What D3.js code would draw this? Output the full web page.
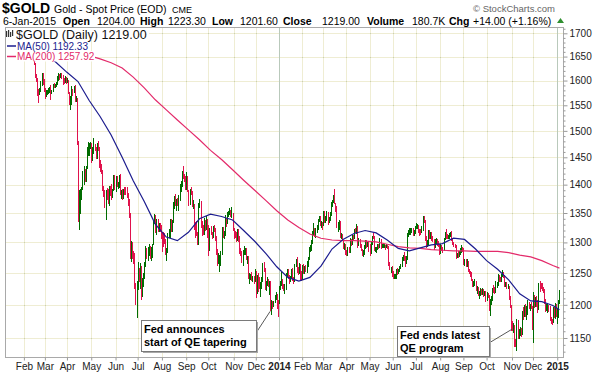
<!DOCTYPE html>
<html lang="en">
<head>
<meta charset="UTF-8">
<title>$GOLD Daily</title>
<script src="https://d3js.org/d3.v7.min.js"></script>
<style>
  body { margin: 0; background: #fff; }
  text { font-family: "Liberation Sans", Arial, sans-serif; }
</style>
</head>
<body>
<div id="chart"></div>
<script>
// ---- data ----

// month axis: label and number of trading days, Jan 2013 .. Jan 2015
var monthLabels = ["Jan","Feb","Mar","Apr","May","Jun","Jul","Aug","Sep","Oct","Nov","Dec",
                   "2014","Feb","Mar","Apr","May","Jun","Jul","Aug","Sep","Oct","Nov","Dec","2015"];
var monthDays = [21,19,20,22,22,20,22,22,20,23,20,21, 21,19,21,21,21,21,22,21,21,23,19,22, 3];
var priceTicks = [1150,1200,1250,1300,1350,1400,1450,1500,1550,1600,1650,1700];

// daily bars, one array per month: [high, low, close]
var jan13 = [[1694,1672,1687],[1693,1662,1664],[1665,1626,1656],[1662,1643,1647],[1664,1645,1657],[1662,1651,1655],[1680,1654,1677],[1680,1658,1662],[1674,1660,1669],[1685,1666,1683],[1686,1676,1681],[1693,1679,1688],[1694,1683,1687],[1696,1682,1692],[1693,1681,1685],[1690,1664,1669],[1671,1655,1658],[1662,1651,1655],[1666,1652,1662],[1680,1660,1677],[1680,1659,1662]];
var feb13 = [[1679,1657,1667],[1677,1663,1674],[1681,1670,1674],[1682,1668,1677],[1681,1664,1668],[1672,1662,1667],[1668,1645,1649],[1652,1641,1649],[1652,1641,1644],[1645,1632,1636],[1637,1605,1609],[1613,1598,1603],[1606,1568,1578],[1582,1554,1576],[1584,1571,1581],[1600,1576,1594],[1616,1588,1614],[1615,1590,1596],[1603,1577,1579]];
var mar13 = [[1584,1562,1572],[1581,1567,1573],[1580,1570,1574],[1584,1573,1575],[1587,1574,1582],[1590,1561,1577],[1581,1572,1578],[1592,1576,1590],[1594,1584,1588],[1592,1584,1589],[1597,1586,1592],[1609,1591,1604],[1615,1600,1612],[1614,1601,1606],[1616,1605,1614],[1615,1603,1607],[1612,1591,1605],[1606,1593,1597],[1609,1596,1606],[1607,1592,1597]];
var apr13 = [[1605,1594,1600],[1602,1573,1575],[1577,1550,1553],[1569,1540,1557],[1588,1550,1580],[1582,1569,1575],[1588,1574,1585],[1590,1556,1558],[1569,1556,1564],[1565,1474,1477],[1480,1335,1348],[1390,1321,1369],[1392,1349,1378],[1396,1373,1392],[1424,1391,1403],[1433,1400,1424],[1428,1404,1409],[1434,1405,1430],[1469,1428,1462],[1478,1453,1462],[1476,1452,1468],[1478,1465,1472]];
var may13 = [[1476,1439,1445],[1470,1444,1467],[1487,1456,1470],[1475,1461,1468],[1470,1446,1451],[1477,1446,1473],[1480,1461,1468],[1469,1430,1437],[1445,1423,1433],[1437,1419,1425],[1426,1389,1393],[1397,1378,1386],[1390,1358,1365],[1390,1338,1385],[1394,1372,1377],[1392,1365,1368],[1397,1363,1392],[1398,1380,1386],[1402,1373,1379],[1393,1376,1391],[1417,1388,1412],[1418,1390,1392]];
var jun13 = [[1416,1387,1412],[1416,1395,1398],[1405,1392,1398],[1417,1394,1414],[1420,1381,1383],[1390,1374,1386],[1392,1372,1378],[1393,1375,1391],[1395,1382,1390],[1396,1382,1386],[1395,1377,1383],[1385,1362,1367],[1375,1342,1347],[1350,1273,1278],[1302,1268,1298],[1301,1272,1278],[1286,1265,1277],[1283,1225,1230],[1234,1200,1212],[1237,1180,1234]];
var jul13 = [[1267,1223,1255],[1258,1236,1243],[1266,1225,1251],[1262,1207,1223],[1242,1212,1235],[1250,1227,1246],[1267,1240,1263],[1294,1260,1283],[1290,1272,1277],[1293,1270,1284],[1297,1277,1291],[1294,1272,1277],[1292,1270,1280],[1298,1275,1296],[1338,1295,1335],[1348,1331,1345],[1347,1315,1319],[1339,1313,1335],[1340,1318,1322],[1333,1318,1329],[1332,1318,1324],[1330,1305,1312]];
var aug13 = [[1317,1284,1311],[1318,1292,1310],[1316,1298,1302],[1306,1279,1283],[1291,1270,1285],[1316,1283,1312],[1323,1308,1312],[1339,1307,1335],[1340,1317,1321],[1338,1318,1335],[1370,1332,1367],[1379,1357,1376],[1384,1362,1365],[1375,1354,1372],[1377,1362,1370],[1381,1354,1377],[1401,1371,1396],[1406,1386,1404],[1424,1395,1419],[1434,1410,1418],[1419,1404,1411],[1415,1391,1396]];
var sep13 = [[1422,1391,1412],[1415,1386,1389],[1391,1363,1365],[1393,1364,1390],[1395,1382,1386],[1389,1361,1363],[1372,1357,1366],[1366,1321,1327],[1334,1308,1326],[1337,1310,1315],[1318,1296,1309],[1368,1295,1365],[1375,1359,1370],[1371,1325,1333],[1337,1310,1322],[1330,1313,1317],[1341,1312,1337],[1338,1319,1323],[1344,1321,1338],[1340,1307,1326]];
var oct13 = [[1329,1278,1286],[1324,1286,1318],[1328,1312,1317],[1318,1306,1310],[1327,1308,1325],[1329,1317,1321],[1325,1302,1307],[1310,1280,1285],[1289,1262,1270],[1282,1264,1273],[1280,1251,1273],[1285,1262,1282],[1326,1280,1322],[1326,1307,1315],[1320,1306,1315],[1346,1310,1341],[1342,1326,1333],[1352,1331,1348],[1353,1343,1352],[1359,1347,1353],[1356,1343,1346],[1361,1341,1348],[1350,1320,1323]];
var nov13 = [[1325,1306,1315],[1320,1308,1314],[1318,1301,1307],[1322,1303,1318],[1322,1300,1308],[1310,1281,1286],[1291,1277,1281],[1285,1266,1271],[1287,1262,1284],[1294,1280,1287],[1291,1280,1288],[1291,1271,1273],[1278,1264,1274],[1277,1240,1243],[1250,1233,1243],[1249,1239,1244],[1252,1237,1241],[1245,1235,1242],[1245,1232,1238],[1256,1235,1250]];
var dec13 = [[1254,1211,1221],[1246,1217,1243],[1250,1220,1242],[1244,1224,1226],[1235,1212,1229],[1243,1225,1240],[1266,1236,1262],[1267,1251,1256],[1258,1223,1226],[1238,1222,1234],[1244,1229,1238],[1240,1227,1230],[1238,1215,1235],[1237,1190,1195],[1208,1185,1203],[1206,1194,1197],[1206,1196,1204],[1215,1203,1212],[1220,1208,1213],[1216,1193,1205],[1207,1182,1202]];
var jan14 = [[1229,1202,1225],[1238,1223,1235],[1251,1229,1238],[1240,1224,1230],[1233,1221,1225],[1233,1217,1229],[1250,1223,1248],[1256,1243,1253],[1256,1240,1244],[1247,1233,1241],[1245,1235,1242],[1256,1240,1254],[1258,1237,1242],[1244,1232,1238],[1265,1236,1263],[1272,1260,1270],[1276,1250,1254],[1260,1247,1251],[1266,1249,1262],[1265,1239,1242],[1253,1238,1240]];
var feb14 = [[1263,1239,1260],[1264,1248,1252],[1262,1248,1258],[1263,1252,1257],[1270,1250,1262],[1276,1260,1274],[1292,1271,1290],[1295,1284,1292],[1304,1285,1301],[1320,1297,1318],[1332,1313,1321],[1325,1309,1312],[1324,1308,1319],[1330,1316,1324],[1340,1321,1337],[1344,1334,1343],[1345,1327,1329],[1336,1325,1331],[1335,1321,1326]];
var mar14 = [[1354,1327,1350],[1353,1333,1336],[1345,1332,1340],[1353,1336,1350],[1352,1330,1338],[1343,1332,1340],[1352,1337,1347],[1370,1345,1367],[1373,1361,1371],[1382,1367,1379],[1392,1365,1367],[1368,1352,1358],[1362,1325,1329],[1334,1318,1330],[1338,1321,1335],[1337,1308,1311],[1316,1306,1311],[1314,1302,1304],[1304,1289,1292],[1299,1288,1294],[1298,1280,1283]];
var apr14 = [[1288,1277,1279],[1293,1278,1291],[1292,1283,1285],[1307,1283,1304],[1306,1294,1298],[1312,1295,1309],[1313,1302,1306],[1322,1305,1319],[1324,1315,1318],[1331,1314,1327],[1327,1291,1302],[1307,1294,1303],[1306,1290,1294],[1298,1285,1288],[1289,1277,1283],[1287,1276,1285],[1296,1279,1292],[1304,1289,1301],[1304,1291,1296],[1300,1292,1296],[1300,1284,1295]];
var may14 = [[1297,1277,1283],[1302,1281,1299],[1311,1296,1309],[1315,1305,1308],[1310,1285,1288],[1293,1284,1288],[1293,1283,1290],[1298,1288,1295],[1298,1289,1293],[1307,1291,1305],[1306,1289,1293],[1298,1290,1293],[1298,1291,1294],[1297,1290,1294],[1296,1287,1292],[1298,1290,1294],[1296,1289,1291],[1294,1262,1264],[1267,1255,1257],[1259,1250,1257],[1261,1244,1246]];
var jun14 = [[1253,1241,1244],[1248,1241,1244],[1248,1240,1244],[1256,1241,1253],[1258,1247,1252],[1256,1249,1253],[1261,1251,1260],[1264,1256,1261],[1276,1259,1273],[1280,1270,1274],[1284,1270,1272],[1277,1260,1271],[1277,1265,1272],[1316,1271,1314],[1321,1309,1316],[1325,1312,1318],[1325,1313,1321],[1325,1315,1322],[1324,1310,1316],[1321,1311,1317],[1328,1314,1322]];
var jul14 = [[1332,1322,1326],[1331,1322,1327],[1330,1315,1320],[1322,1311,1317],[1322,1312,1316],[1327,1315,1325],[1345,1320,1338],[1344,1333,1337],[1338,1303,1307],[1310,1291,1297],[1304,1293,1300],[1321,1296,1318],[1321,1306,1310],[1318,1306,1314],[1317,1303,1306],[1310,1300,1304],[1305,1287,1292],[1306,1290,1303],[1307,1298,1304],[1306,1294,1299],[1302,1293,1295],[1298,1280,1282]];
var aug14 = [[1298,1281,1294],[1296,1286,1289],[1292,1282,1286],[1308,1285,1306],[1317,1304,1312],[1322,1306,1310],[1314,1305,1309],[1313,1305,1310],[1316,1306,1314],[1318,1309,1315],[1320,1302,1305],[1306,1295,1298],[1301,1292,1295],[1298,1290,1293],[1295,1272,1276],[1283,1274,1280],[1285,1275,1277],[1286,1276,1283],[1290,1280,1284],[1295,1283,1290],[1292,1284,1287]];
var sep14 = [[1290,1263,1265],[1273,1262,1270],[1272,1259,1262],[1272,1260,1268],[1269,1251,1253],[1256,1248,1252],[1254,1244,1248],[1251,1237,1239],[1241,1228,1231],[1238,1227,1235],[1240,1230,1236],[1238,1222,1225],[1229,1216,1226],[1228,1214,1216],[1221,1209,1217],[1226,1214,1222],[1225,1215,1219],[1226,1215,1222],[1224,1212,1214],[1222,1213,1219],[1221,1205,1208]];
var oct14 = [[1220,1206,1215],[1219,1210,1214],[1215,1190,1192],[1209,1183,1206],[1213,1200,1211],[1226,1206,1224],[1231,1219,1223],[1227,1217,1222],[1237,1219,1229],[1236,1226,1234],[1249,1230,1242],[1246,1236,1240],[1244,1235,1237],[1249,1236,1246],[1255,1243,1250],[1252,1242,1245],[1247,1228,1230],[1236,1227,1232],[1236,1225,1228],[1233,1224,1228],[1230,1208,1211],[1213,1195,1198],[1200,1161,1171]];
var nov14 = [[1176,1160,1168],[1172,1158,1168],[1170,1137,1145],[1148,1137,1142],[1179,1131,1177],[1177,1148,1150],[1164,1148,1160],[1166,1153,1162],[1165,1151,1160],[1191,1154,1187],[1197,1177,1182],[1199,1181,1196],[1202,1181,1184],[1198,1177,1191],[1207,1185,1200],[1204,1193,1196],[1202,1191,1198],[1204,1193,1197],[1198,1162,1167]];
var dec14 = [[1220,1142,1212],[1215,1195,1200],[1212,1196,1208],[1214,1196,1205],[1208,1188,1192],[1234,1192,1232],[1238,1220,1231],[1234,1225,1229],[1234,1222,1226],[1228,1218,1222],[1225,1202,1207],[1209,1189,1195],[1202,1190,1196],[1203,1187,1198],[1200,1189,1195],[1198,1175,1178],[1181,1171,1175],[1179,1170,1174],[1197,1173,1195],[1197,1180,1182],[1203,1178,1200],[1202,1181,1184]];
var jan15 = [[1194,1171,1186],[1208,1180,1205],[1223.3,1201.6,1219]];

// moving averages: [trading day number, value]
var ma50 = [[40,1656],[50,1638],[60,1617],[70,1598],[80,1560],[90,1528],[100,1492],[110,1450],[120,1407],[130,1370],[140,1331],[150,1309],[160,1303],[170,1317],[180,1340],[190,1348],[200,1344],[210,1338],[220,1320],[230,1302],[240,1282],[250,1260],[260,1243],[270,1237],[280,1243],[290,1261],[300,1289],[310,1305],[320,1315],[330,1320],[340,1316],[350,1304],[360,1290],[370,1286],[380,1291],[390,1296],[400,1298],[410,1307],[420,1305],[430,1289],[440,1270],[450,1256],[460,1239],[470,1217],[480,1206],[490,1205],[500,1199],[506,1192.33]];
var ma200 = [[70,1656],[80,1652],[90,1645],[100,1637],[110,1626],[120,1607],[130,1585],[140,1561],[150,1541],[160,1521],[170,1502],[180,1483],[190,1463],[200,1446],[210,1427],[220,1408],[230,1390],[240,1372],[250,1354],[260,1338],[270,1325],[280,1314],[290,1307],[300,1304],[310,1303],[320,1303],[330,1302],[340,1301],[350,1297],[360,1293],[370,1291],[380,1290],[390,1288],[400,1287],[410,1286],[420,1286],[430,1285],[440,1285],[450,1285],[460,1283],[470,1279],[480,1276],[490,1270],[500,1262],[506,1257.92]];

// annotations: which bar they point at
var notes = [
  {lines: ["Fed announces", "start of QE tapering"], day: 244, price: 1190, box: [141, 320, 115, 31], from: [256, 333]},
  {lines: ["Fed ends latest", "QE program"], day: 463, price: 1163, box: [397, 326, 92, 30], from: [489, 343]}
];

// ---- chart ----
var width = 593, height = 373;
var plot = {left: 5, right: 563, top: 27, bottom: 357};
var red = "#e0124c", green = "#006c00";

var svg = d3.select("#chart").append("svg")
    .attr("width", width)
    .attr("height", height)
    .style("display", "block");

var bars = [].concat(jan13, feb13, mar13, apr13, may13, jun13, jul13, aug13, sep13, oct13, nov13, dec13,
                     jan14, feb14, mar14, apr14, may14, jun14, jul14, aug14, sep14, oct14, nov14, dec14, jan15);

var monthStart = [];
monthDays.reduce(function(acc, n) { monthStart.push(acc); return acc + n; }, 0);

var x = d3.scaleLinear().domain([3.9, 509.2]).range([plot.left, plot.right]);
var y = d3.scaleLog().domain([1122.3, 1713.8]).range([plot.bottom, plot.top]);

var months = monthStart.map(function(d, i) {
  return {day: d, label: monthLabels[i], year: /^\d/.test(monthLabels[i])};
}).filter(function(d) { return x(d.day) > plot.left + 1; });

// grid
var grid = svg.append("g").attr("shape-rendering", "crispEdges");
grid.selectAll(".hg").data(priceTicks).enter().append("line")
    .attr("x1", plot.left).attr("x2", plot.right)
    .attr("y1", function(d) { return Math.round(y(d)) + 0.5; })
    .attr("y2", function(d) { return Math.round(y(d)) + 0.5; })
    .attr("stroke", "#efedd3");
grid.selectAll(".vg").data(months).enter().append("line")
    .attr("x1", function(d) { return Math.round(x(d.day)) + 0.5; })
    .attr("x2", function(d) { return Math.round(x(d.day)) + 0.5; })
    .attr("y1", plot.top).attr("y2", plot.bottom)
    .attr("stroke", function(d) { return d.year ? "#b9c9bb" : "#efedd3"; });
// little dots where grid lines cross
months.filter(function(d) { return !d.year; }).forEach(function(m) {
  grid.selectAll(null).data(priceTicks).enter().append("rect")
      .attr("x", Math.round(x(m.day)))
      .attr("y", function(d) { return Math.round(y(d)); })
      .attr("width", 1).attr("height", 1)
      .attr("fill", "#c9cfb4");
});

// clip to plot
svg.append("clipPath").attr("id", "plotclip").append("rect")
    .attr("x", plot.left + 1).attr("y", plot.top + 1)
    .attr("width", plot.right - plot.left - 1).attr("height", plot.bottom - plot.top - 1);

// candles: at this density each one is a short vertical bar from low to high
svg.append("g").attr("clip-path", "url(#plotclip)").attr("shape-rendering", "crispEdges")
  .selectAll("rect").data(bars).enter().append("rect")
    .attr("x", function(d, i) { return Math.round(x(i)) - 0.5; })
    .attr("width", 1.6)
    .attr("y", function(d) { return Math.round(y(d[0])); })
    .attr("height", function(d) { return Math.max(1, Math.round(y(d[1])) - Math.round(y(d[0]))); })
    .attr("fill", function(d, i) { return (i > 0 && d[2] < bars[i - 1][2]) ? red : green; });

// moving averages
var line = d3.line()
    .x(function(d) { return x(d[0]); })
    .y(function(d) { return y(d[1]); });
var maG = svg.append("g").attr("clip-path", "url(#plotclip)");
maG.append("path").datum(ma200).attr("d", line)
    .attr("fill", "none").attr("stroke", "#e32a6a").attr("stroke-width", 1.2);
maG.append("path").datum(ma50).attr("d", line)
    .attr("fill", "none").attr("stroke", "#1c1c8e").attr("stroke-width", 1.2);

// border
svg.append("rect")
    .attr("x", plot.left + 0.5).attr("y", plot.top + 0.5)
    .attr("width", plot.right - plot.left).attr("height", plot.bottom - plot.top)
    .attr("fill", "none").attr("stroke", "#a9a9a9");

// y axis on the right
var yAxis = svg.append("g")
    .attr("transform", "translate(" + (plot.right + 0.5) + ",0)")
    .call(d3.axisRight(y).tickValues(priceTicks).tickSize(4).tickPadding(2).tickFormat(d3.format("d")));
var minor = d3.range(1130, 1711, 10).filter(function(d) { return d % 50 !== 0; });
var yMinor = svg.append("g")
    .attr("transform", "translate(" + (plot.right + 0.5) + ",0)")
    .call(d3.axisRight(y).tickValues(minor).tickSize(2).tickFormat(""));
[yAxis, yMinor].forEach(function(g) {
  g.select(".domain").remove();
  g.selectAll("line").attr("stroke", "#999");
});
yAxis.selectAll("text").attr("font-size", 10).attr("fill", "#222")
    .style("font-family", "'Liberation Sans', Arial, sans-serif");

// x axis
var xAxis = svg.append("g")
    .attr("transform", "translate(0," + (plot.bottom + 0.5) + ")")
    .call(d3.axisBottom(x).tickValues(months.map(function(d) { return d.day; }))
      .tickSize(3).tickPadding(2)
      .tickFormat(function(d, i) { return months[i].label; }));
xAxis.select(".domain").remove();
xAxis.selectAll("line").attr("stroke", "#999");
xAxis.selectAll("text").attr("font-size", 10).attr("fill", "#222")
    .style("font-family", "'Liberation Sans', Arial, sans-serif")
    .attr("font-weight", function(d, i) { return months[i].year ? "bold" : "normal"; });

// legend (white boxes hide what is behind them)
var legend = svg.append("g");
legend.append("rect").attr("x", 6).attr("y", 28).attr("width", 143).attr("height", 12).attr("fill", "#fff");
legend.append("rect").attr("x", 6).attr("y", 40).attr("width", 84).attr("height", 11).attr("fill", "#fff");
legend.append("rect").attr("x", 6).attr("y", 51).attr("width", 89).attr("height", 10.5).attr("fill", "#fff");
// small candle icon
[[6, 31, 6], [8, 30, 7], [10, 32, 5], [12, 30, 6]].forEach(function(c) {
  legend.append("rect").attr("x", c[0]).attr("y", c[1]).attr("width", 1.2).attr("height", c[2]).attr("fill", "#333");
});
legend.append("text").attr("x", 16).attr("y", 38.5).attr("font-size", 12.5).attr("fill", "#111")
    .text("$GOLD (Daily) 1219.00");
legend.append("line").attr("x1", 7).attr("x2", 16).attr("y1", 46).attr("y2", 46)
    .attr("stroke", "#1c1c8e").attr("stroke-width", 1.5);
legend.append("text").attr("x", 17).attr("y", 49.5).attr("font-size", 10).attr("fill", "#1c1c8e")
    .text("MA(50) " + ma50[ma50.length - 1][1].toFixed(2));
legend.append("line").attr("x1", 7).attr("x2", 16).attr("y1", 56.5).attr("y2", 56.5)
    .attr("stroke", "#e32a6a").attr("stroke-width", 1.5);
legend.append("text").attr("x", 17).attr("y", 60).attr("font-size", 10).attr("fill", "#e32a6a")
    .text("MA(200) " + ma200[ma200.length - 1][1].toFixed(2));

// header
var head = svg.append("g").attr("fill", "#000");
head.append("text").attr("x", 2).attr("y", 13).attr("font-size", 14).attr("font-weight", "bold").text("$GOLD");
head.append("text").attr("x", 54).attr("y", 13).attr("font-size", 10.5).text("Gold - Spot Price (EOD)");
head.append("text").attr("x", 172).attr("y", 13).attr("font-size", 9).text("CME");
head.append("text").attr("x", 473).attr("y", 12).attr("font-size", 9.5).attr("fill", "#666").text("\u00a9 StockCharts.com");
var info = [
  [3, "6-Jan-2015", false], [63, "Open", true], [97, "1204.00", false],
  [140, "High", true], [168, "1223.30", false], [212, "Low", true], [240, "1201.60", false],
  [283, "Close", true], [322, "1219.00", false], [367, "Volume", true], [412, "180.7K", false],
  [449, "Chg", true], [473, "+14.00 (+1.16%)", false]
];
head.selectAll(".info").data(info).enter().append("text")
    .attr("x", function(d) { return d[0]; })
    .attr("y", 25)
    .attr("font-size", 10.5)
    .attr("font-weight", function(d) { return d[2] ? "bold" : "normal"; })
    .text(function(d) { return d[1]; });
head.append("path").attr("d", "M557,23 L560.5,18 L564,23 Z").attr("fill", "#2f8f2f");

// annotations
var ann = svg.append("g");
notes.forEach(function(n) {
  ann.append("line")
      .attr("x1", n.from[0]).attr("y1", n.from[1])
      .attr("x2", x(n.day)).attr("y2", y(n.price))
      .attr("stroke", "#444").attr("stroke-width", 0.9);
  ann.append("rect")
      .attr("x", n.box[0] + 2).attr("y", n.box[1] + 2)
      .attr("width", n.box[2]).attr("height", n.box[3])
      .attr("fill", "#a8a8a8");
  ann.append("rect")
      .attr("x", n.box[0] + 0.5).attr("y", n.box[1] + 0.5)
      .attr("width", n.box[2]).attr("height", n.box[3])
      .attr("fill", "#fff").attr("stroke", "#7a7a7a");
  n.lines.forEach(function(t, k) {
    ann.append("text")
        .attr("x", n.box[0] + 3).attr("y", n.box[1] + 13 + k * 13)
        .attr("font-size", 11).attr("font-weight", "bold").attr("fill", "#000")
        .text(t);
  });
});
</script>
</body>
</html>
